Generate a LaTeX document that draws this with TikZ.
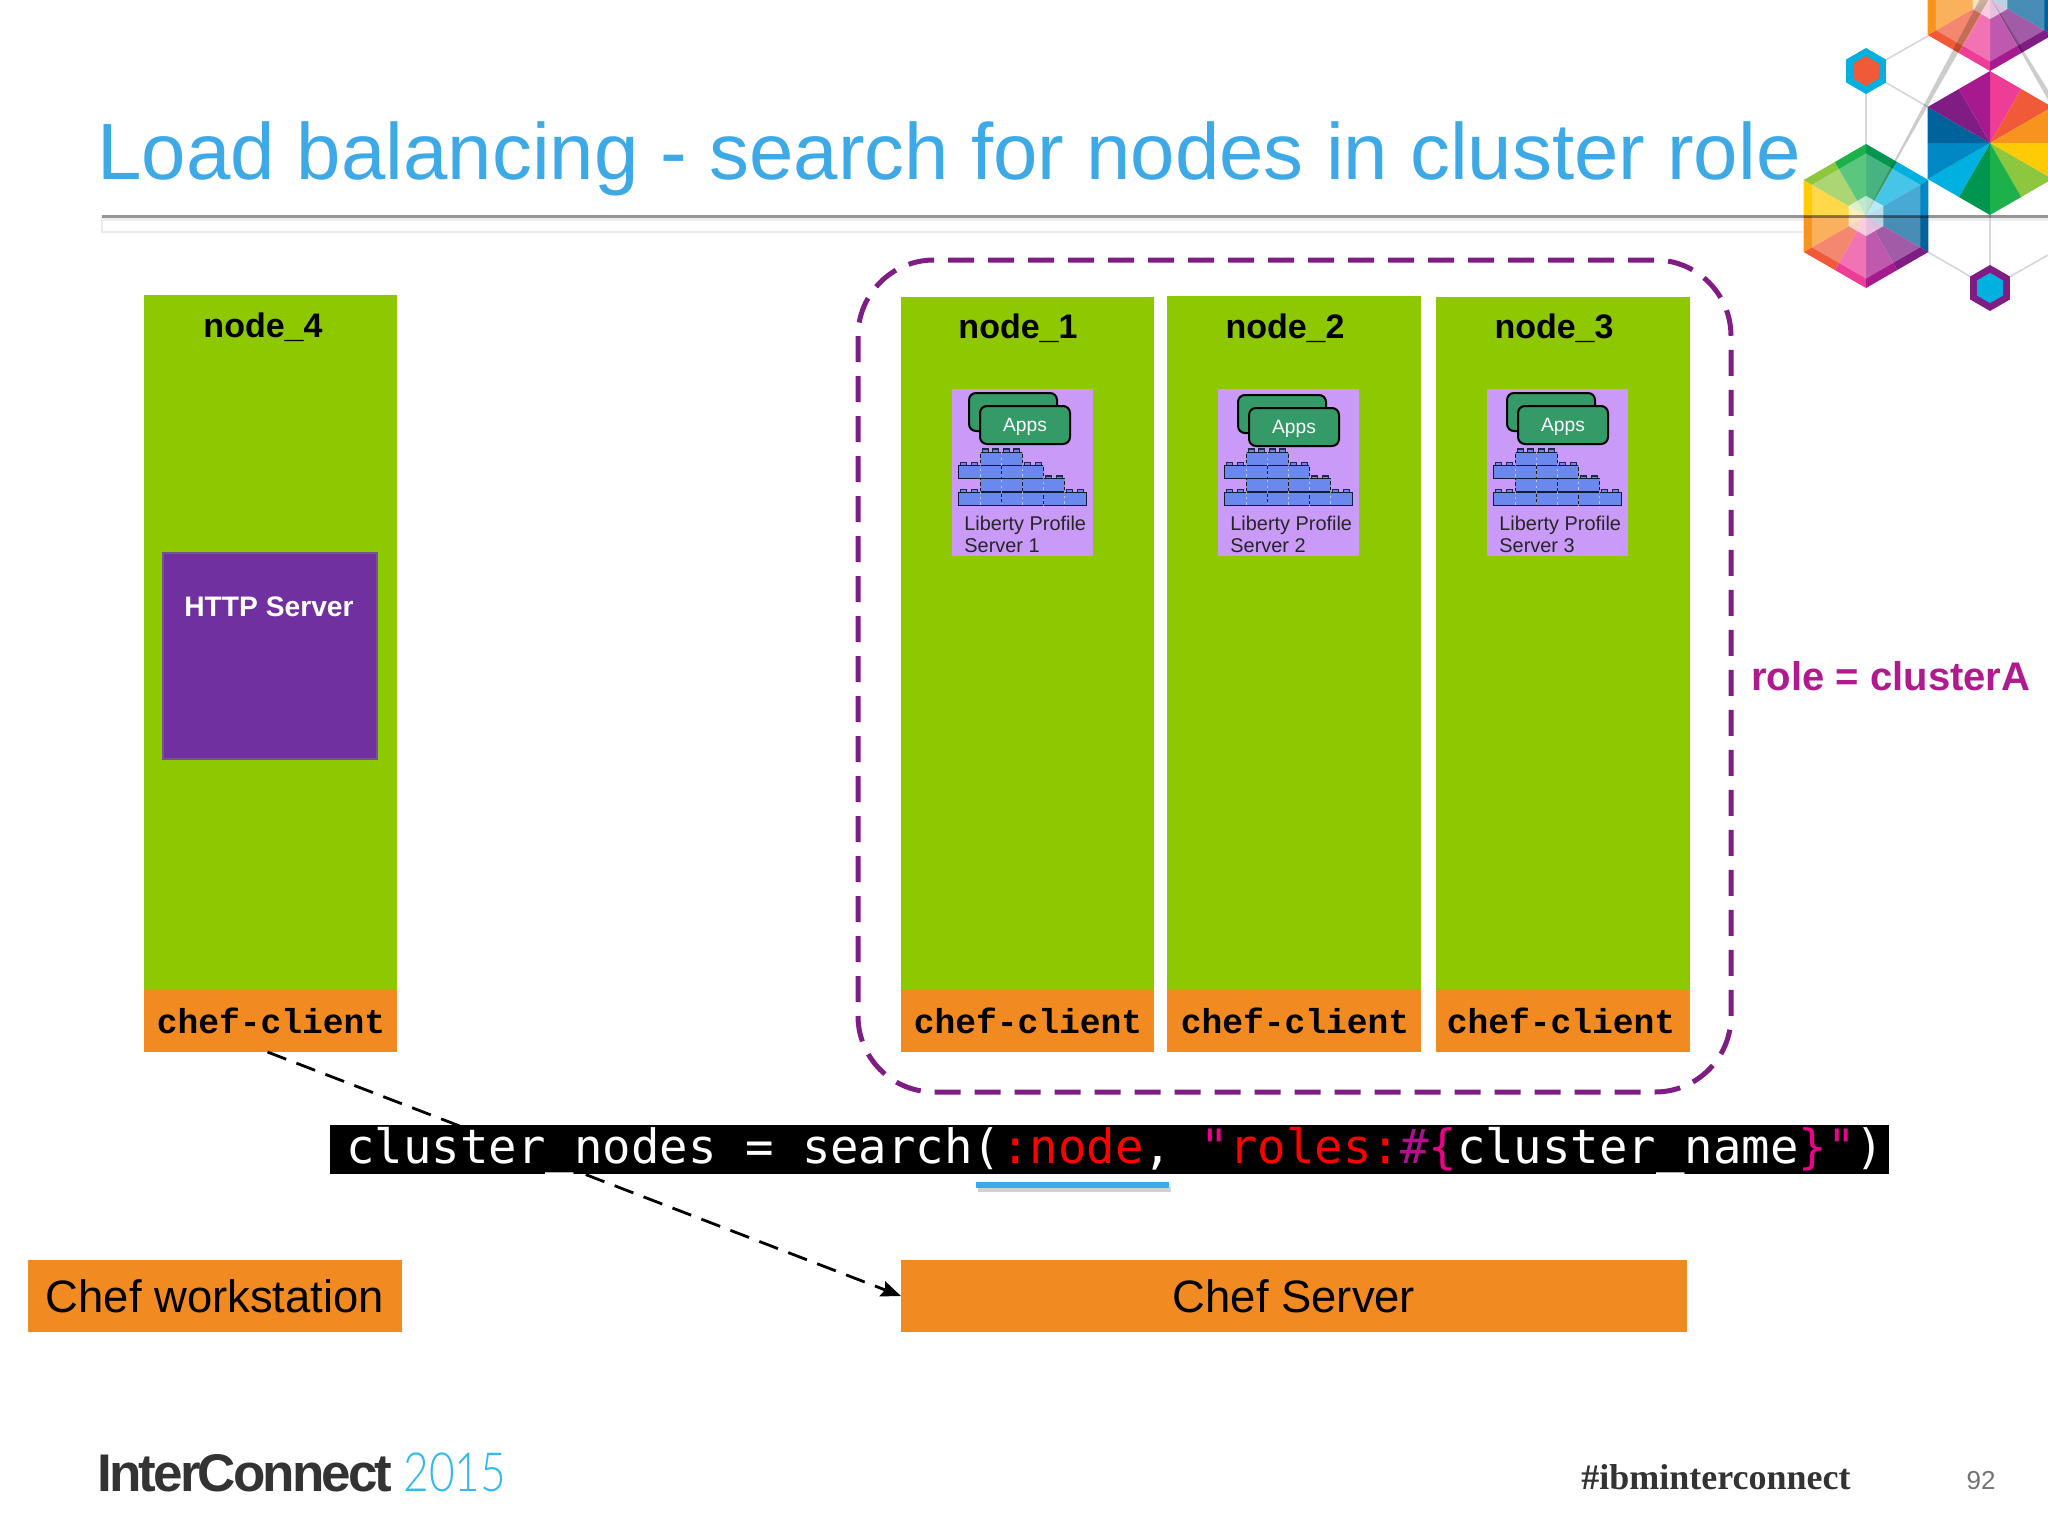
\documentclass[tikz,border=0pt]{standalone}
\usepackage{fontspec}
\setmainfont{Liberation Sans}
\newfontfamily\codefont{DejaVu Sans Mono}
\newfontfamily\mymono{Liberation Mono}
\newfontfamily\myserif{Liberation Serif}
\newfontfamily\icfont[LetterSpace=-5.5]{Liberation Sans}
\newfontfamily\yrfont{Lato Light}
\usetikzlibrary{arrows.meta,shapes.geometric}
\definecolor{titleblue}{HTML}{3DA9E6}
\definecolor{chefo}{HTML}{F18A20}
\definecolor{ngreen}{HTML}{8DC800}
\definecolor{hpurple}{HTML}{7030A0}
\definecolor{tile}{HTML}{C99AF7}
\definecolor{appg}{HTML}{349A68}
\definecolor{brickb}{HTML}{6B88EE}
\definecolor{dashp}{HTML}{7F1D85}
\definecolor{rolep}{HTML}{B01A8E}
\definecolor{netline}{HTML}{D3D6E0}
\definecolor{cPink}{HTML}{EE3D96}
\definecolor{cRed}{HTML}{F15A38}
\definecolor{cOrange}{HTML}{F7941D}
\definecolor{cYellow}{HTML}{FFCB05}
\definecolor{cLgreen}{HTML}{8DC63F}
\definecolor{cGreen}{HTML}{1DB14B}
\definecolor{cDgreen}{HTML}{009650}
\definecolor{cCyan}{HTML}{00B0E0}
\definecolor{cBlue}{HTML}{0088C4}
\definecolor{cDblue}{HTML}{00629B}
\definecolor{cPurple}{HTML}{7F1D85}
\definecolor{cMagenta}{HTML}{A6198F}
\tikzset{
  px/.style={x=0.5pt,y=-0.5pt},
  rectbox/.style={inner sep=0pt,outer sep=0pt,anchor=north west},
  greenbox/.style={rectbox,fill=ngreen},
  orangebox/.style={rectbox,fill=chefo},
  nodetitle/.style={font=\fontsize{17}{20}\selectfont\bfseries,text=black},
  chefclient/.style={font=\mymono\fontsize{17.3}{20}\selectfont\bfseries,text=black},
  cheflabel/.style={font=\fontsize{22.7}{26}\selectfont,text=black},
  thinline/.style={draw=netline,line width=0.8pt},
  brick/.style={fill=brickb,draw=black!80!brickb,line width=0.5pt},
  appsbox/.style={fill=appg,draw=black,line width=1pt,rounded corners=3.5pt},
}
% name, x0, y0, x1, y1, style, text
\newcommand\pxbox[7]{%
  \pgfmathsetlengthmacro\bw{(#4-#2)*0.5pt}%
  \pgfmathsetlengthmacro\bh{(#5-#3)*0.5pt}%
  \node[#6,minimum width=\bw,minimum height=\bh] (#1) at (#2,#3) {#7};}
\newcommand\hexp[4]{\path[#4] ({#1},{#2-#3}) -- ({#1+.866*#3},{#2-.5*#3}) -- ({#1+.866*#3},{#2+.5*#3}) -- ({#1},{#2+#3}) -- ({#1-.866*#3},{#2+.5*#3}) -- ({#1-.866*#3},{#2-.5*#3}) -- cycle;}
% wheel of 12 wedges; #4 colour list clockwise from the top
\newcommand\wheel[4]{%
  \foreach \cc [count=\i from 0] in {#4} {%
    \pgfmathsetmacro\aa{90-30*\i}\pgfmathsetmacro\ab{90-30*(\i+1)}%
    \pgfmathsetmacro\ra{mod(\i,2)==0 ? 1 : .866}\pgfmathsetmacro\rb{mod(\i,2)==0 ? .866 : 1}%
    \fill[\cc] (#1,#2) -- ({#1+#3*\ra*cos(\aa)},{#2-#3*\ra*sin(\aa)}) -- ({#1+#3*\rb*cos(\ab)},{#2-#3*\rb*sin(\ab)}) -- cycle;
  }}
\newcommand\softwheel[3]{%
  \wheel{#1}{#2}{#3}{cDgreen,cCyan,cBlue,cDblue,cPurple,cMagenta,cPink,cRed,cOrange,cYellow,cLgreen,cGreen}%
  \hexp{#1}{#2}{#3*.87}{fill=white,fill opacity=.28}%
  \hexp{#1}{#2}{#3*.28}{fill=white,fill opacity=.62}}
\newcommand\studs[2]{\foreach \sx in {#2} {\fill[black!70!brickb] (\sx,#1) rectangle +(7,-3.3); \fill[brickb] (\sx+1.2,#1-.2) rectangle +(4.6,-1.9);}}
\newcommand\brickrow[3]{\foreach \bx [remember=\bx as \px (initially #3)] in {#1} {\ifdim\bx pt>\px pt \path[brick] (\px,#2) rectangle (\bx,#2+13);\fi}}
\begin{document}
\begin{tikzpicture}[px]
\clip (0,0) rectangle (2048,1536);
\fill[white] (0,0) rectangle (2048,1536);

% title
\node[anchor=base west,inner sep=0pt,text=titleblue,font=\fontsize{39.9}{48}\selectfont] (title) at (97,179) {Load balancing - search for nodes in cluster role};

% rule
\draw[black!8,line width=0.7pt] (102,217) -- (102,232) -- (1803,232);
\fill[black!7] (102,218) rectangle (2048,221);
\coordinate (ruleL) at (102,216.5);
\coordinate (ruleR) at (2048,216.5);

% thin network lines
\coordinate (s1) at (1866,71);
\coordinate (s2) at (1990,288);
\coordinate (h1) at (1866,216);
\coordinate (h2) at (1990,143);
\coordinate (h3) at (1990,-1);
\draw[thinline] (s1) -- (h1);
\draw[thinline] (s1) -- (1928,36);
\draw[thinline] (s1) -- (1928,107);
\draw[thinline] (h2) -- (s2);
\draw[thinline] (1928,252) -- (s2);
\draw[thinline] (s2) -- (2048,255);

% hexagons
\softwheel{1990}{-1}{72}
\wheel{1990}{143}{72}{cPink,cRed,cOrange,cYellow,cLgreen,cGreen,cDgreen,cCyan,cBlue,cDblue,cPurple,cMagenta}
\softwheel{1866}{216}{72}
\hexp{1866}{71}{23}{fill=cCyan}
\hexp{1866}{71}{15}{fill=cRed}
\hexp{1990}{288}{23}{fill=cPurple}
\hexp{1990}{288}{15}{fill=cCyan}
% shards
\fill[black,opacity=.2] (1866,214) -- (1990,-3) -- (1981,-3) -- cycle;
\fill[black,opacity=.2] (1990,-3) -- (2048,100) -- (2048,90) -- cycle;
\draw[black,opacity=.42,line width=1.6pt] (ruleL) -- (ruleR);

% left column
\pxbox{node4}{144}{295}{397}{990}{greenbox}{}
\pxbox{client4}{144}{990}{397}{1052}{orangebox}{}
\node[chefclient] (c4t) at (271,1021) {chef-client};
\node[nodetitle] (t4) at (263,327) {node\_4};
\pxbox{http}{163}{553}{377}{759}{rectbox,fill=hpurple,draw=hpurple!55!gray,line width=0.7pt}{}
\node[font=\fontsize{14.1}{17}\selectfont\bfseries,text=white] (httpt) at (269,607) {HTTP Server};

% cluster columns
\foreach \n/\xa/\xb/\ya/\tx/\ty/\ccx/\cxa/\cxb in {
  1/901/1154/297/1018/328/1028/901/1154,
  2/1167/1421/296/1285/328/1295/1167/1421,
  3/1436/1690/297/1554/328/1561/1436/1690} {
  \pxbox{node\n}{\xa}{\ya}{\xb}{990}{greenbox}{}
  \pxbox{client\n}{\cxa}{990}{\cxb}{1052}{orangebox}{}
  \node[chefclient] (ct\n) at (\ccx,1021) {chef-client};
  \node[nodetitle] (t\n) at (\tx,\ty) {node\_\n};
}

% liberty tiles
\foreach \n/\dx/\ax/\ay in {1/0/0/1,2/266/3/3,3/535/3/1} {
\begin{scope}[shift={(\dx,0)}]
  \pxbox{tile\n}{952}{389}{1093}{556}{rectbox,fill=tile}{}
  \path[appsbox] (969+\ax,392+\ay) rectangle (1057+\ax,430+\ay);
  \path[appsbox] (980+\ax,405+\ay) rectangle (1070+\ax,443+\ay);
  \node[text=white,font=\fontsize{9.6}{12}\selectfont] (apps\n) at (1025+\ax,426+\ay) {Apps};
  \studs{451.7}{982,992,1003,1013}
  \studs{465}{960,971,1024,1035}
  \studs{478.7}{1045,1056}
  \studs{492}{960,971,1066,1077}
  \brickrow{1022}{452}{980}
  \brickrow{1001,1043}{465}{958}
  \brickrow{1022,1064}{478.5}{980}
  \brickrow{1001,1043,1086}{492}{958}
  \draw[white,opacity=.55,line width=.4pt,dash pattern=on 1.2pt off 1.6pt]
    (980,452) -- (980,508) (1001,452) -- (1001,508) (1022,452) -- (1022,508) (1043,465) -- (1043,508) (1064,479) -- (1064,508);
  \node[anchor=base west,inner sep=0pt,font=\fontsize{9.95}{11}\selectfont,text=black!85] (lp\n) at (964,530) {Liberty Profile};
  \node[anchor=base west,inner sep=0pt,font=\fontsize{9.95}{11}\selectfont,text=black!85] (srv\n) at (964,552) {Server \n};
\end{scope}}

% cluster outline
\draw[dashp,line width=2.5pt,rounded corners=38pt,dash pattern=on 13pt off 7pt] (858,260) rectangle (1731,1092);
\node[anchor=west,inner sep=0pt,text=rolep,font=\fontsize{20}{24}\selectfont\bfseries] (role) at (1751,676) {role = clusterA};

% bottom boxes
\pxbox{work}{28}{1260}{402}{1332}{orangebox,cheflabel}{Chef workstation}
\pxbox{server}{901}{1260}{1687}{1332}{orangebox,cheflabel}{Chef Server}

% arrow
\draw[black,line width=1.4pt,dash pattern=on 10pt off 5.5pt,-{Stealth[length=10pt,width=8pt,inset=1.5pt]}] (client4.south) ++(-3,0) -- (server.west);

% code
\pxbox{code}{330}{1125}{1889}{1174}{rectbox,fill=black}{}
\node[anchor=base west,inner sep=0pt,text=white,font=\codefont\fontsize{23.65}{28}\selectfont] (codet) at (346,1163) {cluster\_nodes = search(\textcolor{red}{:node}, \textcolor{magenta}{"}\textcolor{red}{roles:}\textcolor{magenta!70!blue}{\#}\textcolor{magenta}{\{}cluster\_name\textcolor{magenta}{\}"})};
\fill[black!18] (978,1187) rectangle (1171,1192);
\fill[titleblue] (976,1182) rectangle (1169,1188);

% footer
\node[anchor=base west,inner sep=0pt,text=black!80,font=\icfont\fontsize{26.5}{32}\selectfont\bfseries] (ic) at (97,1491) {InterConnect};
\node[anchor=base west,inner sep=0pt,text=titleblue!80!cyan,font=\yrfont\fontsize{27}{32}\selectfont] (yr) at (403,1491) {\scalebox{.82}[1]{2015}};
\node[anchor=base,inner sep=0pt,text=black!80,font=\myserif\fontsize{18}{22}\selectfont\bfseries] (tag) at (1716,1489) {\#ibminterconnect};
\node[anchor=center,inner sep=0pt,text=black!55,font=\fontsize{13}{16}\selectfont] (pg) at (1981,1481) {92};
\end{tikzpicture}
\end{document}
